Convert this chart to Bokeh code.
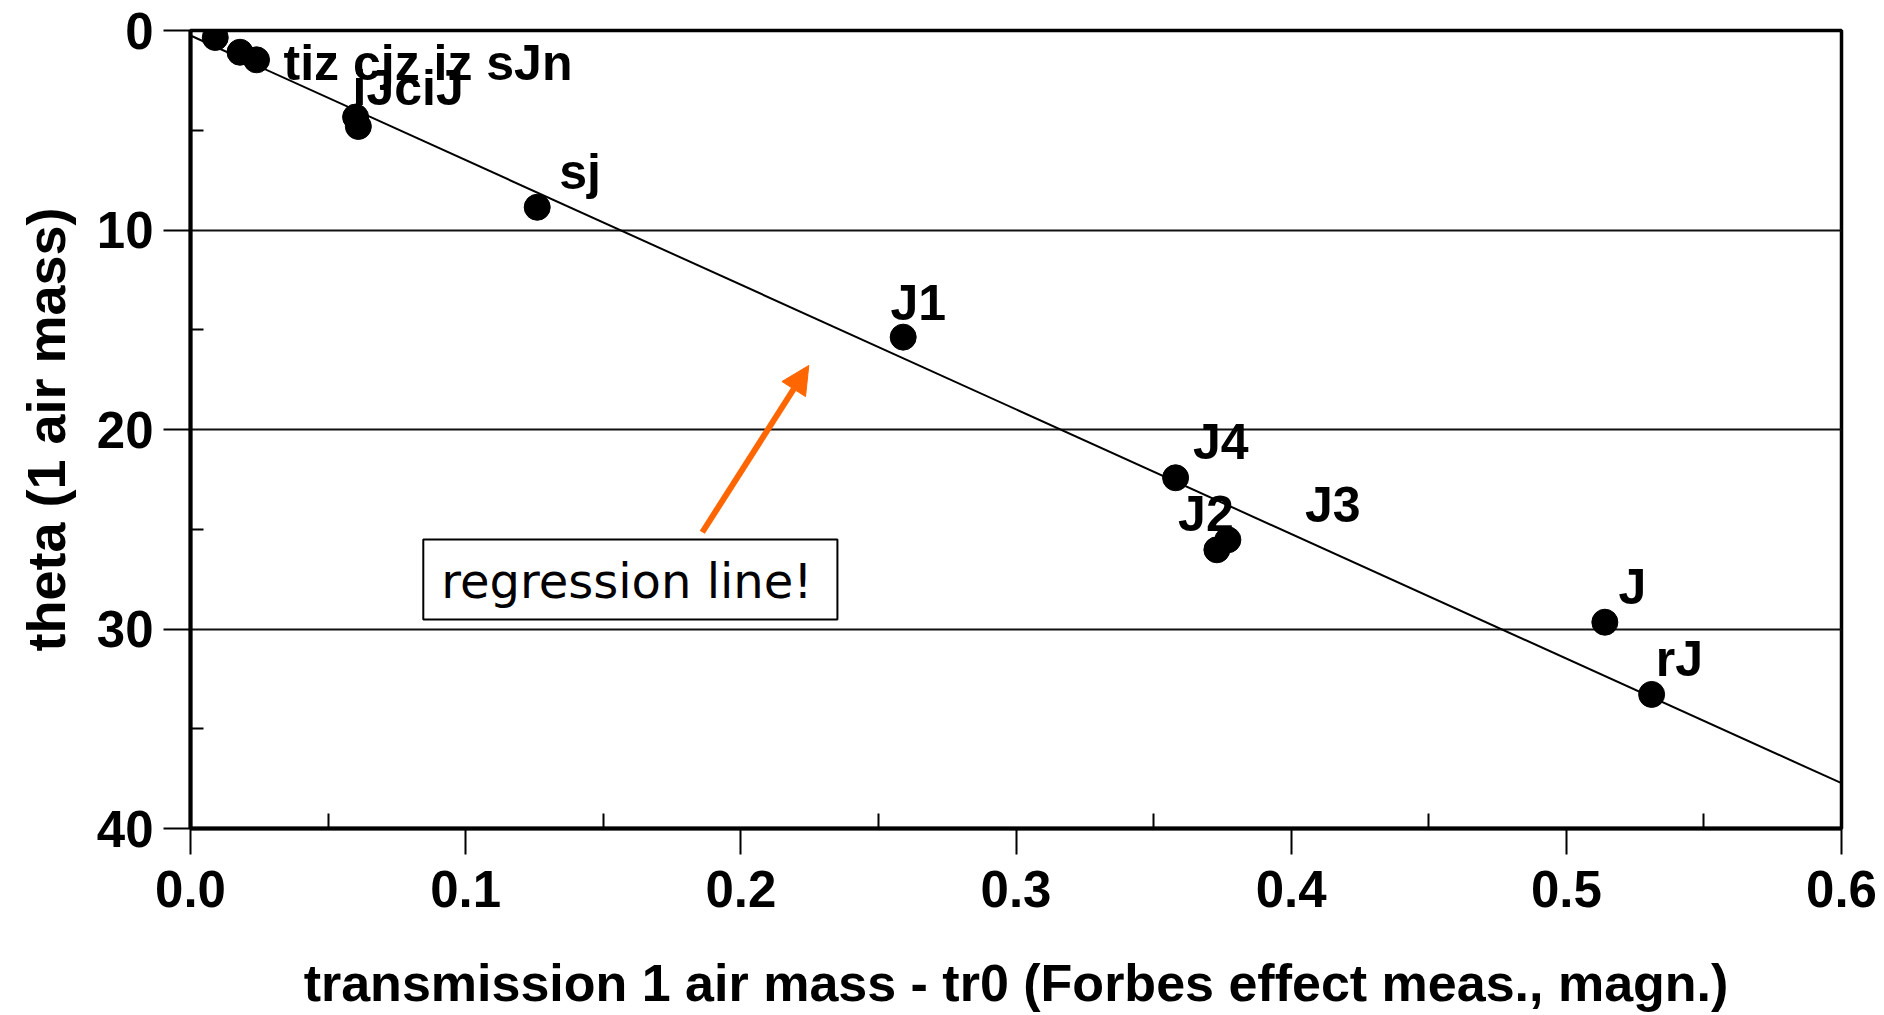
from bokeh.plotting import figure
from bokeh.models import (Range1d, FixedTicker, NumeralTickFormatter,
                          Arrow, NormalHead, ColumnDataSource)
from bokeh.core.properties import value
from bokeh.embed import file_html
from bokeh.resources import INLINE

# ---- data ----
forbes_x = [0.009, 0.018, 0.024, 0.060, 0.061, 0.126, 0.259, 0.358, 0.373, 0.377, 0.514, 0.531]
theta = [0.35, 1.09, 1.47, 4.34, 4.81, 8.86, 15.37, 22.42, 26.03, 25.53, 29.66, 33.28]

label_text = ["tiz cjz iz sJn", "iJciJ", "sj", "J1", "J4", "J2", "J3", "J", "rJ"]
label_x = [0.0338, 0.0589, 0.1340, 0.2544, 0.3643, 0.3589, 0.4050, 0.5190, 0.5325]
label_theta = [2.51, 3.76, 8.0, 14.57, 21.55, 25.15, 24.7, 28.82, 32.41]

reg_x = [0.0, 0.6]
reg_theta = [0.25, 37.73]

x_ticks = [0.0, 0.1, 0.2, 0.3, 0.4, 0.5, 0.6]
x_minor = [0.05, 0.15, 0.25, 0.35, 0.45, 0.55]
y_ticks = [0, 10, 20, 30, 40]
y_minor = [5, 15, 25, 35]

note_text = "regression line!"
note_left, note_right = 0.0846, 0.2351
note_top, note_bottom = 25.51, 29.52
note_text_pos = (0.1586, 27.6)
arrow_from = (0.186, 25.15)
arrow_to = (0.2247, 16.79)

FONT = "Liberation Sans"

p = figure(width=1884, height=1015, output_backend="svg", toolbar_location=None,
           x_range=Range1d(0, 0.6), y_range=Range1d(40, 0),
           min_border_left=190, min_border_right=43, min_border_top=30, min_border_bottom=187,
           background_fill_color="white", border_fill_color="white")

p.outline_line_color = "black"
p.outline_line_width = 3.5

# axes
for ax in (p.xaxis[0], p.yaxis[0]):
    ax.axis_line_width = 4
    ax.axis_line_color = "black"
    ax.major_tick_line_width = 2
    ax.minor_tick_line_width = 2
    ax.major_tick_line_color = "black"
    ax.minor_tick_line_color = "black"
    ax.major_label_text_font = FONT
    ax.major_label_text_font_style = "bold"
    ax.major_label_text_font_size = "51px"
    ax.major_label_text_color = "black"
    ax.axis_label_text_font = FONT
    ax.axis_label_text_font_style = "bold"
    ax.axis_label_text_color = "black"

xa = p.xaxis[0]
xa.ticker = FixedTicker(ticks=x_ticks, minor_ticks=x_minor)
xa.formatter = NumeralTickFormatter(format="0.0")
xa.major_tick_out = 26
xa.major_tick_in = 0
xa.minor_tick_in = 15
xa.minor_tick_out = 0
xa.major_label_standoff = 16
xa.axis_label = "transmission 1 air mass - tr0 (Forbes effect meas., magn.)"
xa.axis_label_text_font_size = "52px"
xa.axis_label_standoff = 44

ya = p.yaxis[0]
ya.ticker = FixedTicker(ticks=y_ticks, minor_ticks=y_minor)
ya.major_tick_out = 27
ya.major_tick_in = 0
ya.minor_tick_in = 13
ya.minor_tick_out = 0
ya.major_label_standoff = 10
ya.axis_label = "theta (1 air mass)"
ya.axis_label_text_font_size = "54px"
ya.axis_label_standoff = 18

p.xgrid.visible = False
p.ygrid.grid_line_color = "#111111"
p.ygrid.grid_line_width = 2

# regression line
p.line(reg_x, reg_theta, line_color="black", line_width=2)

# labels
src = ColumnDataSource(dict(x=label_x, y=label_theta, t=label_text))
p.text(x="x", y="y", text="t", source=src, text_font=value(FONT), text_font_style="bold",
       text_font_size="50px", text_color="black", text_align="left", text_baseline="alphabetic",
       y_offset=-18)

# points
p.scatter(forbes_x, theta, size=26, marker="circle", fill_color="black", line_color="black")

# annotation box + arrow
p.quad(left=[note_left], right=[note_right], top=[note_top], bottom=[note_bottom],
       fill_color="white", line_color="black", line_width=2)
p.text(x=[note_text_pos[0]], y=[note_text_pos[1]], text=[note_text],
       text_font=value("DejaVu Sans"), text_font_size="48px", text_color="black",
       text_align="center", text_baseline="middle")
p.add_layout(Arrow(end=NormalHead(fill_color="#FF6600", line_color="#FF6600", size=28),
                   x_start=arrow_from[0], y_start=arrow_from[1],
                   x_end=arrow_to[0], y_end=arrow_to[1],
                   line_color="#FF6600", line_width=6))

open("out.html", "w").write(file_html(p, INLINE))
